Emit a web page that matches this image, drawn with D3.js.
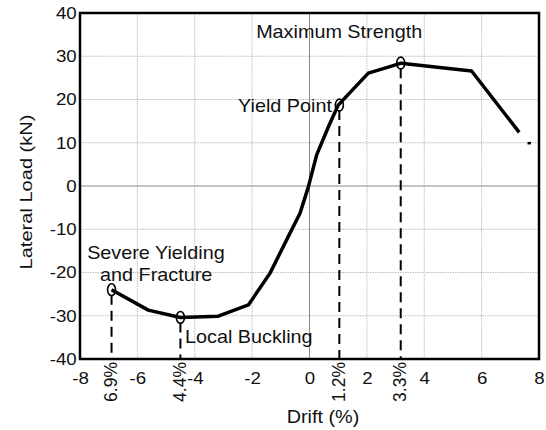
<!DOCTYPE html>
<html>
<head>
<meta charset="utf-8">
<script src="https://cdn.jsdelivr.net/npm/d3@7"></script>
<style>
  body { margin: 0; background: #fff; }
  svg text { font-family: "Liberation Sans", Arial, sans-serif; fill: #111; }
</style>
</head>
<body>
<div id="chart"></div>
<script>
"use strict";

// drift (%) vs lateral load (kN)
const drift = [-6.9, -5.62, -4.5, -3.18, -2.13, -1.38, -0.68, -0.33, -0.04, 0.25, 0.66, 1.0, 2.05, 2.8, 3.19, 5.65, 7.31];
const load = [-24.0, -28.7, -30.4, -30.1, -27.5, -20.2, -10.9, -6.3, -0.2, 7.2, 13.7, 18.7, 26.1, 27.6, 28.4, 26.6, 12.4];

// marked points and their drift labels
const markDrift = [-6.9, -4.5, 1.04, 3.18];
const markLoad = [-24.0, -30.4, 18.7, 28.4];
const markLabels = ["6.9%", "4.4%", "1.2%", "3.3%"];

const xTicks = [-8, -6, -4, -2, 0, 2, 4, 6, 8];
const yTicks = [-40, -30, -20, -10, 0, 10, 20, 30, 40];

const W = 546, H = 430;
const margin = {top: 13, right: 7, bottom: 71, left: 80};
const width = W - margin.left - margin.right;
const height = H - margin.top - margin.bottom;
const sx = 1.1; // text in the picture is a bit wider than tall

const svg = d3.select("#chart").append("svg")
  .attr("width", W).attr("height", H);
const g = svg.append("g").attr("transform", `translate(${margin.left},${margin.top})`);

const x = d3.scaleLinear().domain([-8, 8]).range([0, width]);
const y = d3.scaleLinear().domain([-40, 40]).range([height, 0]);

// grid
g.append("g").selectAll("line").data(xTicks.slice(1, -1)).enter().append("line")
  .attr("x1", d => x(d)).attr("x2", d => x(d)).attr("y1", 0).attr("y2", height)
  .attr("stroke", d => d === 0 ? "#8a8a8a" : "#bdbdbd")
  .attr("stroke-dasharray", d => d === 0 ? null : "1.5,1")
  .attr("stroke-width", 1);
g.append("g").selectAll("line").data(yTicks.slice(1, -1)).enter().append("line")
  .attr("y1", d => y(d)).attr("y2", d => y(d)).attr("x1", 0).attr("x2", width)
  .attr("stroke", d => d === 0 ? "#8a8a8a" : "#bdbdbd")
  .attr("stroke-dasharray", d => d === 0 ? null : "1.5,1")
  .attr("stroke-width", 1);

// axes (labels only, frame drawn as rect)
const xAxis = g.append("g").attr("transform", `translate(0,${height})`)
  .call(d3.axisBottom(x).tickValues(xTicks).tickFormat(d => String(d)).tickSize(0).tickPadding(13));
const yAxis = g.append("g")
  .call(d3.axisLeft(y).tickValues(yTicks).tickFormat(d => String(d)).tickSize(0).tickPadding(3));
[xAxis, yAxis].forEach(a => {
  a.select(".domain").remove();
  a.selectAll("text").attr("font-size", 17).attr("fill", "#111")
    .attr("font-family", "'Liberation Sans', Arial, sans-serif")
    .attr("transform", `scale(${sx},1)`);
});

g.append("rect").attr("width", width).attr("height", height)
  .attr("fill", "none").attr("stroke", "#000").attr("stroke-width", 2.5);

// dashed drop lines
g.append("g").selectAll("line").data(markDrift).enter().append("line")
  .attr("x1", d => x(d)).attr("x2", d => x(d))
  .attr("y1", (d, i) => y(markLoad[i]) + 5).attr("y2", height)
  .attr("stroke", "#000").attr("stroke-width", 2)
  .attr("stroke-dasharray", "10,6");

// curve
const line = d3.line().x(d => x(d[0])).y(d => y(d[1]));
g.append("path").datum(d3.zip(drift, load))
  .attr("d", line).attr("fill", "none")
  .attr("stroke", "#000").attr("stroke-width", 3.5).attr("stroke-linejoin", "round");

// stray tick near the end
g.append("line")
  .attr("x1", x(7.6)).attr("x2", x(7.72)).attr("y1", y(9.9)).attr("y2", y(9.9))
  .attr("stroke", "#000").attr("stroke-width", 2.5);

// markers
g.append("g").selectAll("ellipse").data(markDrift).enter().append("ellipse")
  .attr("cx", d => x(d)).attr("cy", (d, i) => y(markLoad[i]))
  .attr("rx", 4).attr("ry", 6)
  .attr("fill", "none").attr("stroke", "#000").attr("stroke-width", 1.6);

// rotated drift labels
g.append("g").selectAll("text").data(markLabels).enter().append("text")
  .attr("transform", (d, i) => `translate(${x(markDrift[i]) + 5.5},${height + 3}) rotate(-90)`)
  .attr("text-anchor", "end").attr("font-size", 17.5)
  .text(d => d);

// annotations
const notes = [
  {t: "Maximum Strength", dx: -1.86, dy: 34.2},
  {t: "Yield Point", dx: -2.49, dy: 17.2},
  {t: "Severe Yielding", dx: -7.75, dy: -16.9},
  {t: "and Fracture", dx: -7.3, dy: -22.0},
  {t: "Local Buckling", dx: -4.34, dy: -36.3}
];
g.append("g").selectAll("text").data(notes).enter().append("text")
  .attr("transform", d => `translate(${x(d.dx)},${y(d.dy)}) scale(${sx},1)`)
  .attr("font-size", 18).text(d => d.t);

// axis titles
svg.append("text")
  .attr("transform", `translate(323,423) scale(${sx},1)`)
  .attr("text-anchor", "middle").attr("font-size", 18).text("Drift (%)");
svg.append("text")
  .attr("transform", `translate(32,192) rotate(-90)`)
  .attr("text-anchor", "middle").attr("font-size", 17)
  .attr("textLength", 155).attr("lengthAdjust", "spacingAndGlyphs")
  .text("Lateral Load (kN)");
</script>
</body>
</html>
